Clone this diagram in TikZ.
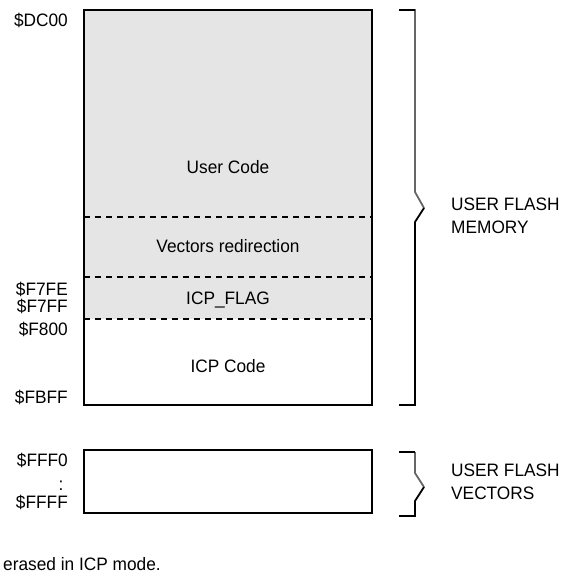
\documentclass[tikz,border=0pt]{standalone}
\usepackage{fontspec}
\setmainfont{Liberation Sans}[FakeStretch=0.96]
\begin{document}
\begin{tikzpicture}[x=1pt,y=-1pt,
  lbl/.style={font=\fontsize{18}{20}\selectfont, inner sep=0pt, anchor=base},
  addr/.style={lbl, anchor=base east},
  side/.style={lbl, anchor=base west},
  frame/.style={draw=black, line width=2pt},
  sep/.style={draw=black, line width=1.4pt, dash pattern=on 6pt off 5pt},
  brace/.style={draw=black, line width=1.8pt, line join=miter}]
\useasboundingbox (0,0) rectangle (566,581);

% user flash memory block
\fill[black!10] (84,10) rectangle (372,319);
\draw[sep] (84,217) -- (372,217);
\draw[sep] (84,277) -- (372,277);
\draw[sep] (84,319) -- (372,319);
\draw[frame] (84,10) rectangle (372,405);

\node[lbl] (usr) at (228,173) {User Code};
\node[lbl] (vec) at (228,252) {Vectors redirection};
\node[lbl] (flag) at (228,304) {ICP\_FLAG};
\node[lbl] (icp) at (228,372) {ICP Code};

\node[addr] (a1) at (68,26) {\$DC00};
\node[addr] (a2) at (68,295) {\$F7FE};
\node[addr] (a3) at (68,312) {\$F7FF};
\node[addr] (a4) at (68,335) {\$F800};
\node[addr] (a5) at (68,403) {\$FBFF};

% brace for the memory area
\draw[brace, draw=black!60] (399,10) -- (415,10) -- (415,192) -- (424,208);
\draw[brace] (399,10) -- (415,10);
\draw[brace] (424,208) -- (415,222) -- (415,405) -- (399,405);
\node[side] (m1) at (451,210) {USER FLASH};
\node[side] (m2) at (451,233) {MEMORY};

% vectors block
\draw[frame] (84,450) rectangle (372,513);
\node[addr] (v1) at (68,466) {\$FFF0};
\node[lbl] (v2) at (61,490) {:};
\node[addr] (v3) at (68,508) {\$FFFF};

\draw[brace, draw=black!60] (415,452) -- (415,473) -- (424,487);
\draw[brace] (399,452) -- (415,452);
\draw[brace] (424,487) -- (415,501) -- (415,516) -- (399,516);
\node[side] (n1) at (451,476) {USER FLASH};
\node[side] (n2) at (451,499) {VECTORS};

\node[side] (note) at (3,570) {erased in ICP mode.};
\end{tikzpicture}
\end{document}
